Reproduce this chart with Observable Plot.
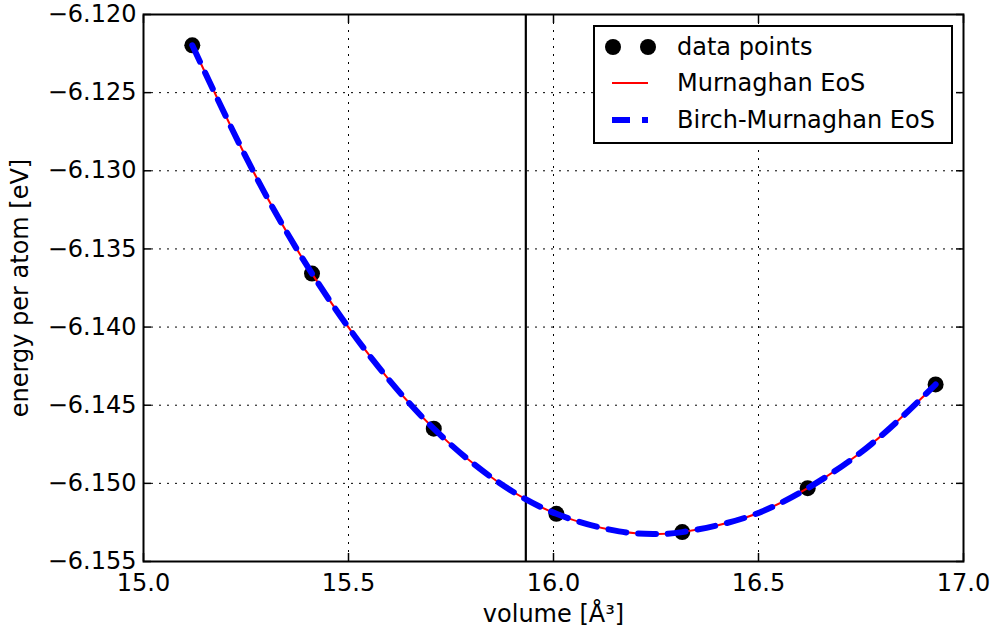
<!DOCTYPE html>
<html><head><meta charset="utf-8">
<script src="https://cdn.jsdelivr.net/npm/d3@7"></script>
<script src="https://cdn.jsdelivr.net/npm/@observablehq/plot@0.6"></script>
<style>
html,body{margin:0;padding:0;background:#fff;}
#chart{position:relative;width:996px;height:639px;}
</style></head><body><div id="chart"></div>
<script>
// measured data points
const volumes  = [15.119, 15.411, 15.708, 16.007, 16.314, 16.620, 16.932];
const energies = [-6.12197, -6.13658, -6.1465, -6.15195, -6.15312, -6.15031, -6.14367];
// fitted curves
const murnV = [15.119, 15.265, 15.411, 15.56, 15.708, 15.857, 16.007, 16.16, 16.248, 16.314, 16.467, 16.62, 16.776, 16.932];
const murnE = [-6.12197, -6.1299, -6.13658, -6.14212, -6.1465, -6.14977, -6.15195, -6.15307, -6.15324, -6.15312, -6.1522, -6.15031, -6.14747, -6.14367];
const birchV = [15.119, 15.265, 15.411, 15.56, 15.708, 15.857, 16.007, 16.16, 16.248, 16.314, 16.467, 16.62, 16.776, 16.932];
const birchE = [-6.12197, -6.1299, -6.13658, -6.14212, -6.1465, -6.14977, -6.15195, -6.15307, -6.15324, -6.15312, -6.1522, -6.15031, -6.14747, -6.14367];
const markerVolume = [15.9325];
const xTicks = [15.0, 15.5, 16.0, 16.5, 17.0];
const yTicks = [-6.155, -6.150, -6.145, -6.140, -6.135, -6.130, -6.125, -6.120];
const xLabel = "volume [Å³]";
const yLabel = "energy per atom [eV]";
const legendLabels = ["data points", "Murnaghan EoS", "Birch-Murnaghan EoS"];

const points = volumes.map((v, i) => ({v, e: energies[i]}));
const murn = murnV.map((v, i) => ({v, e: murnE[i]}));
const birch = birchV.map((v, i) => ({v, e: birchE[i]}));

const FONT = "'DejaVu Sans', sans-serif";
const gridStyle = {stroke: "black", strokeOpacity: 1, strokeWidth: 1, strokeDasharray: "2,6"};

const svg = Plot.plot({
  width: 996, height: 639,
  marginLeft: 143, marginRight: 33, marginTop: 14, marginBottom: 78,
  style: {fontFamily: FONT, fontSize: "24px", background: "white", color: "black"},
  x: {domain: [15, 17]},
  y: {domain: [-6.155, -6.120]},
  marks: [
    Plot.gridX(xTicks.slice(1, -1), gridStyle),
    Plot.gridY(yTicks.slice(1, -1), gridStyle),
    Plot.axisX(xTicks, {anchor: "bottom", tickSize: -8, strokeWidth: 1.5, text: null, label: null}),
    Plot.axisX(xTicks, {anchor: "top", tickSize: -8, strokeWidth: 1.5, text: null, label: null}),
    Plot.axisY(yTicks, {anchor: "left", tickSize: -8, strokeWidth: 1.5, text: null, label: null}),
    Plot.axisY(yTicks, {anchor: "right", tickSize: -8, strokeWidth: 1.5, text: null, label: null}),
    Plot.axisX(xTicks, {anchor: "bottom", tickSize: 0, tickPadding: 12, tickFormat: d3.format(".1f"), label: null, fontSize: 24, fill: "black"}),
    Plot.axisY(yTicks, {anchor: "left", tickSize: 0, tickPadding: 7, tickFormat: d3.format(".3f"), label: null, fontSize: 24, fill: "black"}),
    Plot.text([xLabel], {frameAnchor: "bottom", dy: 60, text: d => d, fontSize: 24, fill: "black"}),
    Plot.text([yLabel], {frameAnchor: "left", dx: -123, rotate: -90, textAnchor: "middle", text: d => d, fontSize: 24, fill: "black"}),
    Plot.ruleX(markerVolume, {stroke: "black", strokeWidth: 2.2}),
    Plot.dot(points, {x: "v", y: "e", r: 8, fill: "black", stroke: "none"}),
    Plot.line(murn, {x: "v", y: "e", stroke: "red", strokeWidth: 2, curve: "natural"}),
    Plot.line(birch, {x: "v", y: "e", stroke: "blue", strokeWidth: 6, strokeDasharray: "18,12", curve: "natural"}),
    Plot.frame({stroke: "black", strokeWidth: 2})
  ]
});

// legend box inside the plot area (upper right)
const lg = d3.select(svg).append("g").attr("font-family", FONT).attr("font-size", 24).attr("text-anchor", "start");
lg.append("rect").attr("x", 594).attr("y", 26).attr("width", 358).attr("height", 117)
  .attr("fill", "white").attr("stroke", "black").attr("stroke-width", 2);
const rows = [47, 83, 120];
lg.append("circle").attr("cx", 613).attr("cy", rows[0]).attr("r", 8).attr("fill", "black");
lg.append("circle").attr("cx", 648).attr("cy", rows[0]).attr("r", 8).attr("fill", "black");
lg.append("line").attr("x1", 612).attr("x2", 648).attr("y1", rows[1]).attr("y2", rows[1])
  .attr("stroke", "red").attr("stroke-width", 2);
lg.append("line").attr("x1", 612).attr("x2", 648).attr("y1", rows[2]).attr("y2", rows[2])
  .attr("stroke", "blue").attr("stroke-width", 6).attr("stroke-dasharray", "18,12");
legendLabels.forEach((t, i) => {
  lg.append("text").attr("x", 677).attr("y", rows[i]).attr("dy", "0.35em")
    .attr("text-anchor", "start").attr("fill", "black").text(t);
});

document.getElementById("chart").appendChild(svg);
</script></body></html>
